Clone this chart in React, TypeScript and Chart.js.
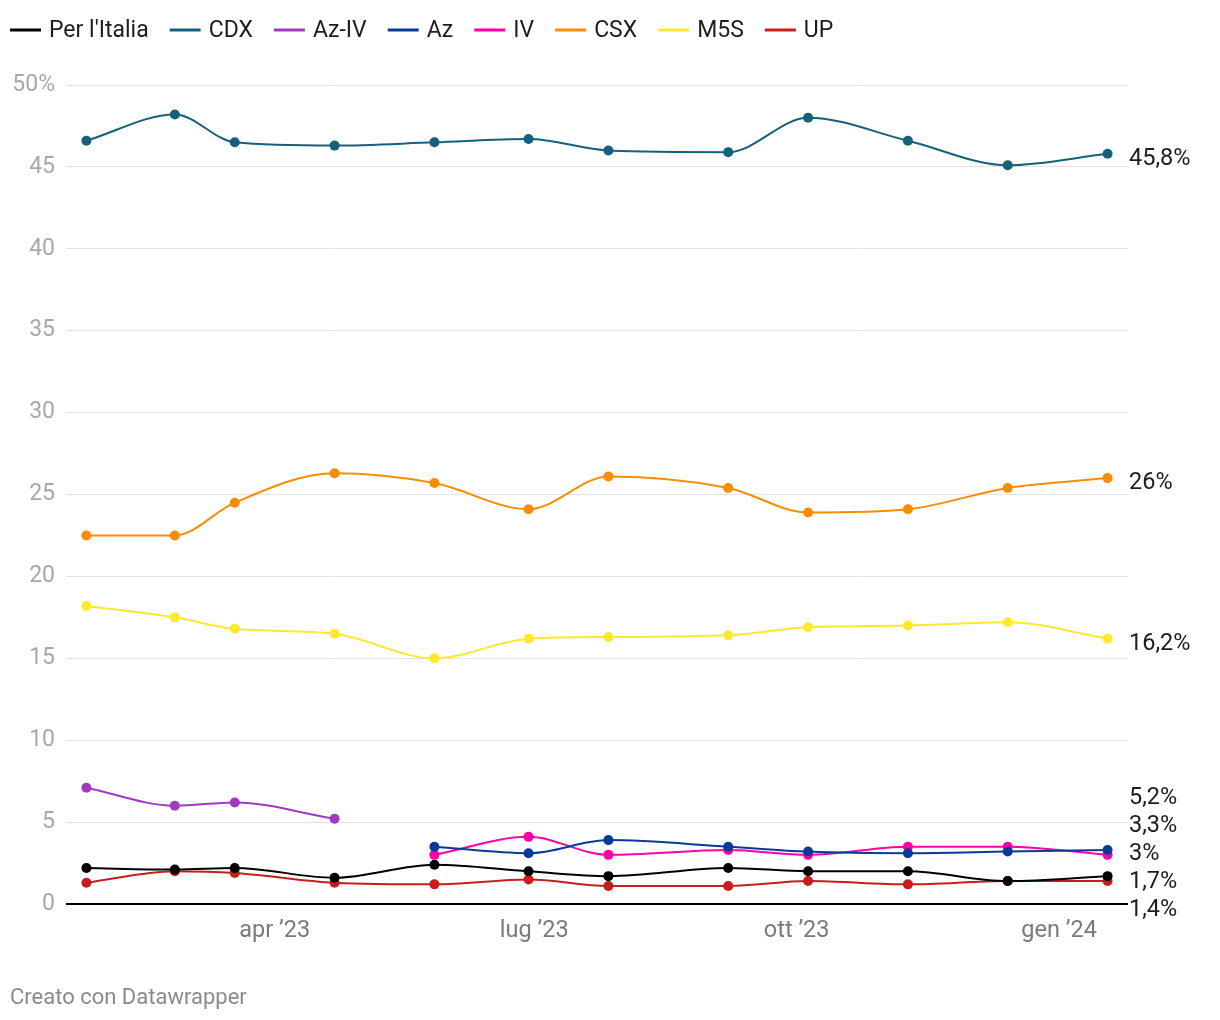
import React, { useEffect, useRef } from 'react';
import { Chart, registerables } from 'chart.js';

Chart.register(...registerables);

// ---- data ----
const DATES = [
  '2023-01-25', '2023-02-25', '2023-03-18', '2023-04-22', '2023-05-27', '2023-06-29',
  '2023-07-27', '2023-09-07', '2023-10-05', '2023-11-09', '2023-12-14', '2024-01-18',
];
const PER_ITALIA = [2.2, 2.1, 2.2, 1.6, 2.4, 2.0, 1.7, 2.2, 2.0, 2.0, 1.4, 1.7];
const CDX = [46.6, 48.2, 46.5, 46.3, 46.5, 46.7, 46.0, 45.9, 48.0, 46.6, 45.1, 45.8];
const AZ_IV = [7.1, 6.0, 6.2, 5.2, null, null, null, null, null, null, null, null];
const AZ = [null, null, null, null, 3.5, 3.1, 3.9, 3.5, 3.2, 3.1, 3.2, 3.3];
const IV = [null, null, null, null, 3.0, 4.1, 3.0, 3.3, 3.0, 3.5, 3.5, 3.0];
const CSX = [22.5, 22.5, 24.5, 26.3, 25.7, 24.1, 26.1, 25.4, 23.9, 24.1, 25.4, 26.0];
const M5S = [18.2, 17.5, 16.8, 16.5, 15.0, 16.2, 16.3, 16.4, 16.9, 17.0, 17.2, 16.2];
const UP = [1.3, 2.0, 1.9, 1.3, 1.2, 1.5, 1.1, 1.1, 1.4, 1.2, 1.4, 1.4];

const SERIES_NAMES = ["Per l'Italia", 'CDX', 'Az-IV', 'Az', 'IV', 'CSX', 'M5S', 'UP'];
const SERIES_VALUES: (number | null)[][] = [PER_ITALIA, CDX, AZ_IV, AZ, IV, CSX, M5S, UP];
const SERIES_COLORS = ['#000000', '#15607a', '#a03bc1', '#0a3a99', '#ff00a5', '#fa8c00', '#ffe82e', '#c71e1d'];

const X_TICK_DATES = ['2023-04-01', '2023-07-01', '2023-10-01', '2024-01-01'];
const X_TICK_LABELS = ['apr ’23', 'lug ’23', 'ott ’23', 'gen ’24'];
const Y_TICKS = [0, 5, 10, 15, 20, 25, 30, 35, 40, 45, 50];
const FOOTER = 'Creato con Datawrapper';

// ---- helpers ----
const DAY0 = Date.UTC(2023, 0, 1);
function dayNum(s: string): number {
  const [y, m, d] = s.split('-').map(Number);
  return (Date.UTC(y, m - 1, d) - DAY0) / 86400000;
}
const X_DAYS = DATES.map(dayNum);
const X_TICK_DAYS = X_TICK_DATES.map(dayNum);
const X_RANGE = X_DAYS[X_DAYS.length - 1] - X_DAYS[0];
const X_MIN = X_DAYS[0] - X_RANGE * 0.02;
const X_MAX = X_DAYS[X_DAYS.length - 1] + X_RANGE * 0.02;

const fmt = (v: number) => String(v).replace('.', ',') + '%';
const FONT = 'Roboto, "Noto Sans", sans-serif';

const legendPlugin = {
  id: 'topLegend',
  afterDraw(chart: any) {
    const ctx = chart.ctx;
    ctx.save();
    ctx.font = `23px ${FONT}`;
    ctx.textBaseline = 'middle';
    ctx.textAlign = 'left';
    let x = 10;
    const y = 30;
    chart.data.datasets.forEach((ds: any) => {
      ctx.strokeStyle = ds.borderColor;
      ctx.lineWidth = 3;
      ctx.beginPath();
      ctx.moveTo(x, y);
      ctx.lineTo(x + 31, y);
      ctx.stroke();
      x += 31 + 8;
      ctx.fillStyle = '#1d1d1d';
      ctx.fillText(ds.label, x, y + 1);
      x += ctx.measureText(ds.label).width + 21;
    });
    ctx.restore();
  },
};

const valueLabelPlugin = {
  id: 'valueLabels',
  afterDatasetsDraw(chart: any) {
    const { ctx, chartArea, scales } = chart;
    const yScale = scales.y;
    const items = SERIES_VALUES.map((vals) => {
      let v: number | null = null;
      for (let i = vals.length - 1; i >= 0; i--) {
        if (vals[i] != null) { v = vals[i]; break; }
      }
      return { text: fmt(v as number), y: yScale.getPixelForValue(v) + 5 };
    });
    items.sort((a, b) => a.y - b.y);
    const gap = 28;
    for (let i = 1; i < items.length; i++) {
      items[i].y = Math.max(items[i].y, items[i - 1].y + gap);
    }
    const maxY = chartArea.bottom + 6;
    if (items[items.length - 1].y > maxY) items[items.length - 1].y = maxY;
    for (let i = items.length - 2; i >= 0; i--) {
      items[i].y = Math.min(items[i].y, items[i + 1].y - gap);
    }
    ctx.save();
    ctx.font = `23.5px ${FONT}`;
    ctx.fillStyle = '#1d1d1d';
    ctx.textBaseline = 'middle';
    ctx.textAlign = 'left';
    items.forEach((it) => ctx.fillText(it.text, chartArea.right + 1, it.y));
    ctx.restore();
  },
};

export default function App() {
  const canvasRef = useRef<HTMLCanvasElement | null>(null);

  useEffect(() => {
    let chart: Chart | null = null;
    let cancelled = false;
    const build = () => {
      if (cancelled || !canvasRef.current) return;
      chart = new Chart(canvasRef.current, {
        type: 'line',
        data: {
          datasets: SERIES_NAMES.map((name, i) => ({
            label: name,
            data: SERIES_VALUES[i].map((v, j) => ({ x: X_DAYS[j], y: v })),
            borderColor: SERIES_COLORS[i],
            backgroundColor: SERIES_COLORS[i],
            pointBackgroundColor: SERIES_COLORS[i],
            pointBorderWidth: 0,
            pointRadius: 5,
            pointHoverRadius: 5,
            borderWidth: 2,
            cubicInterpolationMode: 'monotone' as const,
            spanGaps: false,
            fill: false,
          })),
        },
        options: {
          responsive: false,
          animation: false,
          events: [],
          devicePixelRatio: 1,
          layout: { padding: { left: 10, right: 92, top: 85, bottom: 76 } },
          plugins: { legend: { display: false }, tooltip: { enabled: false } },
          scales: {
            x: {
              type: 'linear',
              min: X_MIN,
              max: X_MAX,
              grid: { display: false, drawTicks: false },
              border: { display: false },
              afterBuildTicks: (scale: any) => {
                scale.ticks = X_TICK_DAYS.map((v) => ({ value: v }));
              },
              afterFit: (scale: any) => { scale.height = 40; },
              ticks: {
                autoSkip: false,
                maxRotation: 0,
                padding: 13,
                color: '#7a7a7a',
                font: { family: FONT, size: 23.5 },
                callback: (_v: any, i: number) => X_TICK_LABELS[i],
              },
            },
            y: {
              type: 'linear',
              min: 0,
              max: 50,
              afterBuildTicks: (scale: any) => {
                scale.ticks = Y_TICKS.map((v) => ({ value: v }));
              },
              afterFit: (scale: any) => { scale.width = 56; },
              grid: {
                drawTicks: false,
                color: (c: any) => (c.tick && c.tick.value === 0 ? '#000000' : '#e3e3e3'),
                lineWidth: (c: any) => (c.tick && c.tick.value === 0 ? 2 : 1),
              },
              border: { display: false },
              ticks: {
                padding: 11,
                color: '#a8a8a8',
                font: { family: FONT, size: 23 },
                callback: (v: any) => (v === 50 ? '50%' : String(v)),
              },
            },
          },
        },
        plugins: [legendPlugin, valueLabelPlugin],
      } as any);
    };
    const fontsReady = (document as any).fonts
      ? Promise.all([
          (document as any).fonts.load(`23px Roboto`),
          (document as any).fonts.load(`22px Roboto`),
        ]).catch(() => null)
      : Promise.resolve(null);
    fontsReady.then(build);
    return () => {
      cancelled = true;
      if (chart) chart.destroy();
    };
  }, []);

  return (
    <div style={{ position: 'absolute', left: 0, top: 0, width: 1220, height: 1020, background: '#ffffff' }}>
      <canvas ref={canvasRef} width={1220} height={1020} style={{ display: 'block' }} />
      <div
        style={{
          position: 'absolute',
          left: 10,
          top: 983,
          fontFamily: FONT,
          fontSize: 22,
          color: '#8a8a8a',
          lineHeight: '28px',
          whiteSpace: 'nowrap',
        }}
      >
        {FOOTER}
      </div>
    </div>
  );
}
